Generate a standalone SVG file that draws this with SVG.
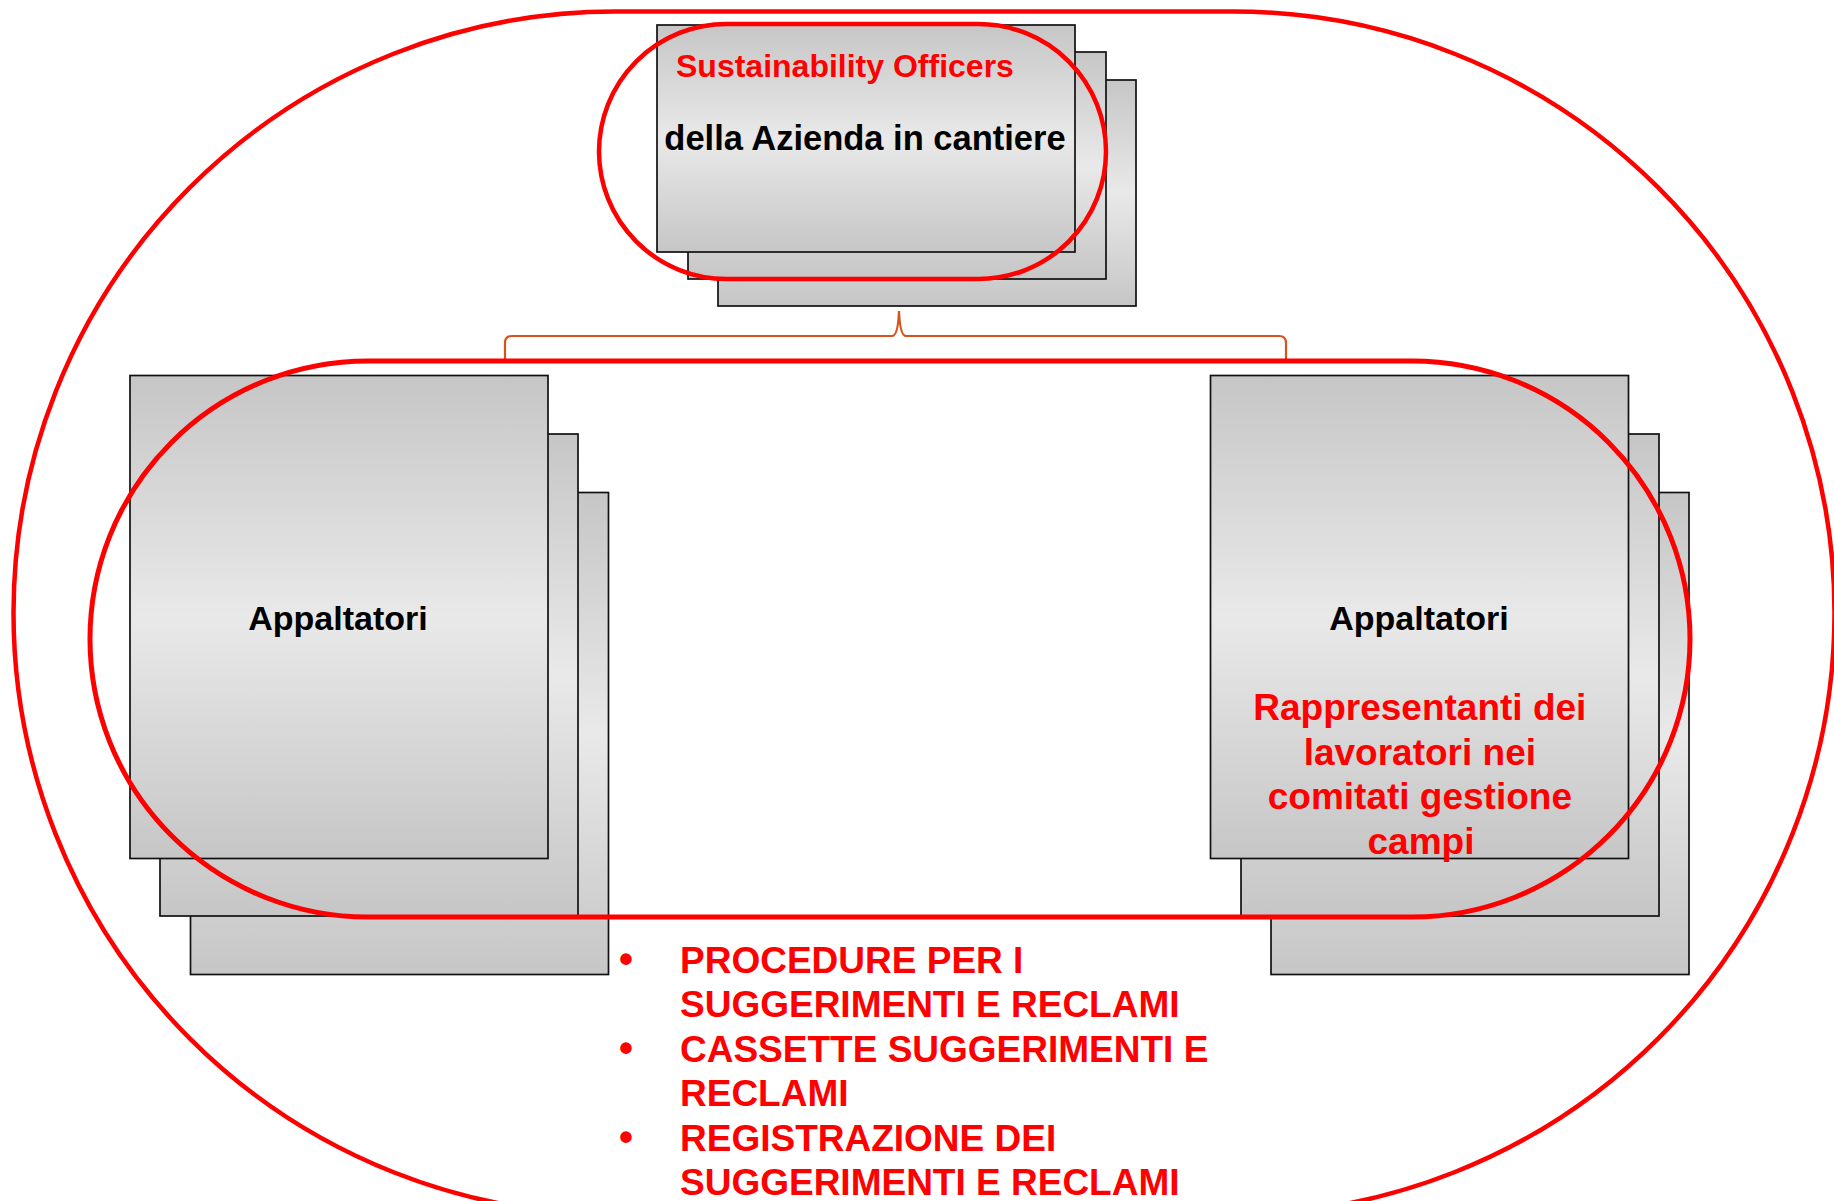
<svg xmlns="http://www.w3.org/2000/svg" width="1834" height="1201" viewBox="0 0 1834 1201">
  <defs>
    <linearGradient id="gray" x1="0" y1="0" x2="0" y2="1">
      <stop offset="0" stop-color="#c6c6c6"/>
      <stop offset="0.5" stop-color="#e9e9e9"/>
      <stop offset="1" stop-color="#c6c6c6"/>
    </linearGradient>
  </defs>
  <style>
    .card { fill: url(#gray); stroke: #111; stroke-width: 1.7; }
    .t { font-family: "Liberation Sans", Arial, sans-serif; font-weight: bold; }
    .blk { fill: #000; }
    .red { fill: #ff0000; }
    .ring { fill: none; stroke: #ff0000; }
    .brace { fill: none; stroke: #d4541c; stroke-width: 2.2; }
  </style>
  <rect width="1834" height="1201" fill="#ffffff"/>

  <g id="node-top">
    <rect class="card" x="718" y="80" width="418" height="226"/>
    <rect class="card" x="688" y="52" width="418" height="227"/>
    <rect class="card" x="657" y="25" width="418" height="227"/>
    <text class="t red" x="676" y="77" font-size="32">Sustainability Officers</text>
    <text class="t blk" x="865" y="150" font-size="34.5" text-anchor="middle">della Azienda in cantiere</text>
  </g>

  <g id="node-left">
    <rect class="card" x="190.5" y="492.5" width="418" height="482"/>
    <rect class="card" x="160" y="434" width="418" height="482"/>
    <rect class="card" x="130" y="375.5" width="418" height="483"/>
    <text class="t blk" x="338" y="630" font-size="34" text-anchor="middle">Appaltatori</text>
  </g>

  <g id="node-right">
    <rect class="card" x="1271" y="492.5" width="418" height="482"/>
    <rect class="card" x="1241" y="434" width="418" height="482"/>
    <rect class="card" x="1210.5" y="375.5" width="418" height="483"/>
    <text class="t blk" x="1419" y="630" font-size="34" text-anchor="middle">Appaltatori</text>
    <text class="t red" font-size="37" text-anchor="middle">
      <tspan x="1425" y="720">Rappresentanti dei</tspan>
      <tspan x="1425" y="764.5">lavoratori nei</tspan>
      <tspan x="1425" y="809">comitati gestione</tspan>
      <tspan x="1421" y="853.5">campi</tspan>
    </text>
  </g>

  <g id="connectors">
    <path class="brace" d="M505,359 L505,343 Q505,336 512,336 L892,336 Q898,336 899,311 Q900,336 906,336 L1279,336 Q1286,336 1286,343 L1286,359"/>
  </g>

  <g id="groupings">
    <rect class="ring" stroke-width="4.5" x="13.5" y="11.5" width="1821" height="1203" rx="601.5" ry="601.5"/>
    <rect class="ring" stroke-width="5" x="90" y="361" width="1600" height="556" rx="278" ry="278"/>
    <rect class="ring" stroke-width="4.5" x="599" y="24" width="507" height="255" rx="127.5" ry="127.5"/>
  </g>

  <g id="measures-list">
    <text class="t red" x="626" y="972.5" font-size="40" text-anchor="middle">•</text>
    <text class="t red" x="626" y="1061.5" font-size="40" text-anchor="middle">•</text>
    <text class="t red" x="626" y="1150.5" font-size="40" text-anchor="middle">•</text>
    <text class="t red" font-size="37">
      <tspan x="680" y="972.5">PROCEDURE PER I</tspan>
      <tspan x="680" y="1017">SUGGERIMENTI E RECLAMI</tspan>
      <tspan x="680" y="1061.5">CASSETTE SUGGERIMENTI E</tspan>
      <tspan x="680" y="1106">RECLAMI</tspan>
      <tspan x="680" y="1150.5">REGISTRAZIONE DEI</tspan>
      <tspan x="680" y="1195">SUGGERIMENTI E RECLAMI</tspan>
    </text>
  </g>
</svg>
